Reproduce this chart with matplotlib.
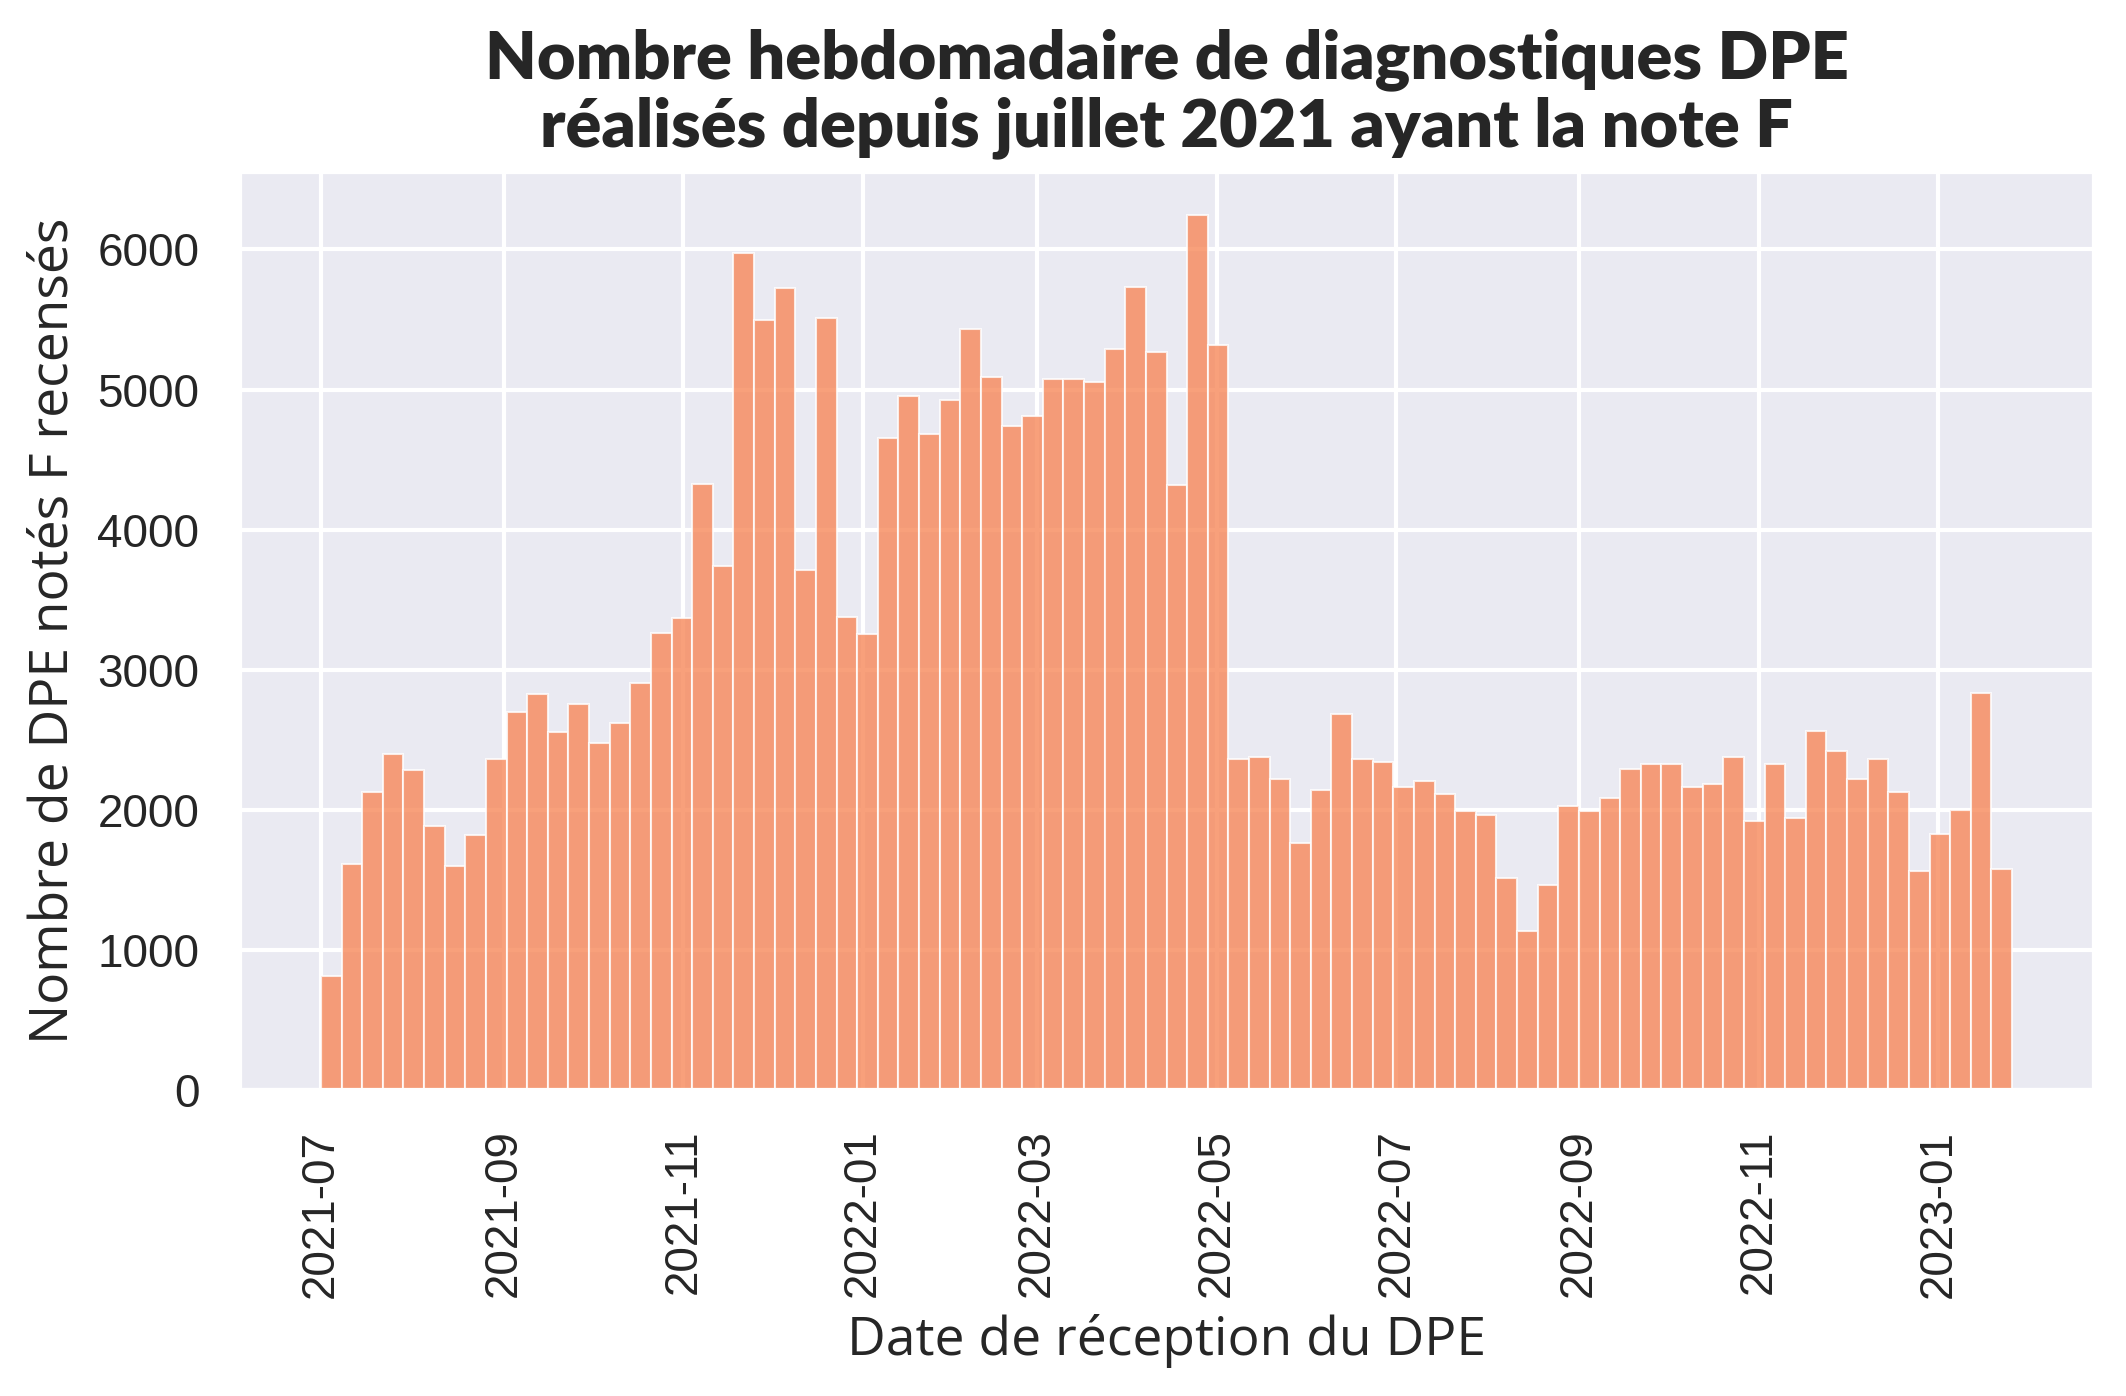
import numpy as np
import pandas as pd
import matplotlib
matplotlib.use("Agg")
import matplotlib.pyplot as plt
import matplotlib.dates as mdates
import seaborn as sns

start_date = "2021-07-01"
weekly_counts = [
    813, 1613, 2130, 2400, 2283, 1883, 1600, 1822, 2365, 2696,
    2826, 2557, 2752, 2474, 2622, 2904, 3261, 3370, 4326, 3743,
    5974, 5496, 5726, 3709, 5513, 3374, 3252, 4652, 4957, 4683,
    4922, 5435, 5087, 4743, 4809, 5078, 5078, 5057, 5287, 5735,
    5265, 4317, 6243, 5317, 2361, 2374, 2217, 1761, 2139, 2687,
    2365, 2343, 2165, 2209, 2113, 1991, 1961, 1513, 1135, 1465,
    2030, 1991, 2083, 2291, 2326, 2326, 2161, 2187, 2374, 1917,
    2326, 1939, 2561, 2422, 2217, 2365, 2130, 1565, 1826, 1996,
    2835, 1578,
]
week_starts = pd.date_range(start_date, periods=len(weekly_counts), freq="7D")

title = "Nombre hebdomadaire de diagnostiques DPE\nréalisés depuis juillet 2021 ayant la note F"
xlabel = "Date de réception du DPE"
ylabel = "Nombre de DPE notés F recensés"

sns.set_theme(style="darkgrid")
plt.rcParams["font.family"] = ["Liberation Sans", "DejaVu Sans"]

W, H, DPI = 2126, 1396, 300
fig = plt.figure(figsize=(W / DPI, H / DPI), dpi=DPI)
ax = fig.add_axes([239 / W, 1 - 1090 / H, (2094 - 239) / W, (1090 - 171) / H])

ax.bar(week_starts, weekly_counts, width=7, align="edge",
       color="#F7885A", alpha=0.8, edgecolor="white", linewidth=0.5)

x0 = pd.Timestamp(start_date)
ax.set_xlim(x0 - pd.Timedelta(days=27.8), x0 + pd.Timedelta(days=601.8))
ax.set_ylim(0, 6560)
ax.set_yticks([0, 1000, 2000, 3000, 4000, 5000, 6000])

ax.xaxis.set_major_locator(mdates.MonthLocator(bymonth=[1, 3, 5, 7, 9, 11]))
ax.xaxis.set_major_formatter(mdates.DateFormatter("%Y-%m"))
for lab in ax.get_xticklabels():
    lab.set_rotation(90)
ax.tick_params(axis="both", labelsize=11, colors="#262626")

ax.set_xlabel(xlabel, fontsize=12.8, family=["Open Sans", "DejaVu Sans"], color="#262626")
ax.set_ylabel(ylabel, fontsize=12.8, family=["Open Sans", "DejaVu Sans"], color="#262626")
ax.set_title(title, fontsize=16, fontweight="heavy", family=["Lato", "DejaVu Sans"],
             color="#262626", linespacing=1.1)

fig.savefig("out.png", dpi=DPI)
